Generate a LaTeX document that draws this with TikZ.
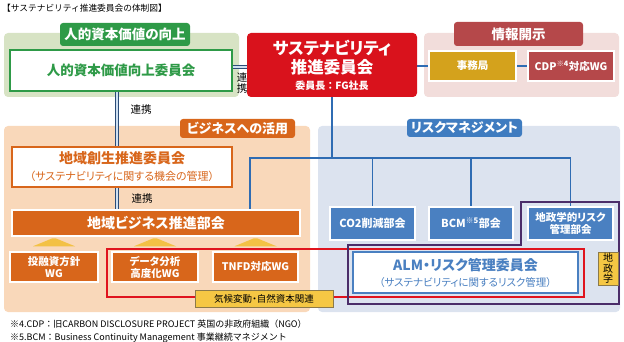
\documentclass[tikz,border=0pt]{standalone}
\usepackage{fontspec}
\setmainfont{Noto Sans CJK JP}[RawFeature={+palt}]
\newfontfamily\jpwide{Noto Sans CJK JP}
\usepackage{tikz}
\usetikzlibrary{
    positioning
}
\definecolor{greenbg}{HTML}{D7E3C4}
\definecolor{greendark}{HTML}{2E9A47}
\definecolor{redmain}{HTML}{D9121C}
\definecolor{pinkbg}{HTML}{F2DDDB}
\definecolor{wine}{HTML}{B5484A}
\definecolor{gold}{HTML}{D4A21C}
\definecolor{orangebg}{HTML}{F9D8BA}
\definecolor{orangemain}{HTML}{D8661B}
\definecolor{bluebg}{HTML}{DCE3EF}
\definecolor{bluetab}{HTML}{3F7CC0}
\definecolor{bluebox}{HTML}{4A80C1}
\definecolor{treeblue}{HTML}{2F6CB3}
\definecolor{linkdark}{HTML}{2B4C78}
\definecolor{linklight}{HTML}{CFE0F1}
\definecolor{tagyellow}{HTML}{F5C744}
\definecolor{tagedge}{HTML}{8C7A4A}
\definecolor{markyellow}{HTML}{F3C145}
\definecolor{climred}{HTML}{E0141E}
\definecolor{geopurple}{HTML}{4B2D69}
\tikzset{
    panel/.style={
        rounded corners=4pt
    },
    tab/.style={
        rounded corners=3pt,
        text=white,
        inner sep=0pt
    },
    whitebox/.style={
        fill=white,
        line width=1.5pt,
        align=center,
        inner sep=0pt
    },
    solidbox/.style={
        draw=white,
        line width=1.5pt,
        text=white,
        align=center,
        inner sep=0pt
    },
    renkei/.style={
        draw=linkdark,
        line width=0.8pt,
        double=linklight,
        double distance=2.6pt
    },
    tree/.style={
        draw=treeblue,
        line width=1.1pt
    },
    tag/.style={
        fill=tagyellow,
        draw=tagedge,
        line width=0.6pt,
        inner sep=0pt
    }
}

\begin{document}
\begin{tikzpicture}[
    x=1pt,
    y=-1pt
]

    \useasboundingbox (0,0) rectangle (624,342);

    % Titulo
    \node[anchor=west, font=\jpwide\fontsize{8.7}{11}\selectfont, inner sep=0pt] (titulo) at (2,8)
        {【サステナビリティ推進委員会の体制図】};

    % Regiones
    \fill[panel, fill=greenbg]  (4,33)    rectangle (239,97);
    \fill[panel, fill=pinkbg]   (424,33)  rectangle (619,97);
    \fill[panel, fill=orangebg] (4,126)   rectangle (310,312);
    \fill[panel, fill=bluebg]   (318,126) rectangle (620,312);

    % Pestanas
    \node[tab, fill=greendark, minimum width=130pt, minimum height=23pt,
          font=\fontsize{13.5}{15}\selectfont\bfseries]
        (tabjinzai) at (125,34.5) {人的資本価値の向上};
    \node[tab, fill=wine, minimum width=129pt, minimum height=24pt,
          font=\fontsize{13.5}{15}\selectfont\bfseries]
        (tabkaiji) at (518.5,34) {情報開示};
    \node[tab, fill=orangemain, minimum width=115pt, minimum height=19pt,
          font=\fontsize{13}{15}\selectfont\bfseries]
        (tabbiz) at (237.5,128.5) {ビジネスへの活用};
    \node[tab, fill=bluetab, minimum width=115pt, minimum height=18pt,
          font=\fontsize{13}{15}\selectfont\bfseries]
        (tabrisk) at (464.5,128) {リスクマネジメント};

    % Conexiones
    \coordinate (hub)   at (332,158);
    \coordinate (bizin) at (250,210);
    \coordinate (rx)    at (117,0);

    \draw[tree] (332,97) -- (hub);
    \draw[tree] (hub) -| (bizin);
    \draw[tree] (hub) -| (372.5,208);
    \draw[tree] (hub) -| (471,208);
    \draw[tree] (hub) -| (570.5,208);
    \draw[tree] (417,66) -- (429,66);
    \draw[tree] (516,66) -- (528,66);

    % Comites
    \node[fill=redmain, rounded corners=4pt, minimum width=170pt, minimum height=64pt,
          text=white, align=center, inner sep=0pt,
          font=\fontsize{16.5}{19}\selectfont\bfseries]
        (suishin) at (332,65)
        {サステナビリティ\\推進委員会\\[-3pt]\jpwide\fontsize{10}{12}\selectfont 委員長：FG社長};

    \node[whitebox, draw=greendark, text=greendark, minimum width=222pt, minimum height=41pt,
          font=\fontsize{13.5}{15}\selectfont\bfseries]
        (jinzai) at (121,70.5) {人的資本価値向上委員会};

    \node[solidbox, fill=gold, minimum width=87pt, minimum height=30pt,
          font=\fontsize{10.5}{12}\selectfont\bfseries]
        (jimu) at (472.5,66) {事務局};
    \node[solidbox, fill=wine, minimum width=86pt, minimum height=30pt,
          font=\fontsize{10.5}{12}\selectfont\bfseries]
        (cdp) at (571,66) {CDP\textsuperscript{※4}対応WG};

    \node[whitebox, draw=orangemain, text=orangemain, minimum width=220pt, minimum height=40pt,
          font=\fontsize{14}{17}\selectfont\bfseries]
        (sousei) at (122,167)
        {地域創生推進委員会\\\fontsize{11}{13}\selectfont\mdseries（サステナビリティに関する機会の管理）};

    \node[solidbox, fill=orangemain, minimum width=288pt, minimum height=26pt,
          font=\fontsize{14}{16}\selectfont\bfseries]
        (chiikibiz) at (156,223) {地域ビジネス推進部会};

    \node[solidbox, fill=orangemain, minimum width=88pt, minimum height=30pt,
          font=\fontsize{10.5}{12}\selectfont\bfseries]
        (wg1) at (54,267) {投融資方針\\WG};
    \node[solidbox, fill=orangemain, minimum width=86pt, minimum height=30pt,
          font=\fontsize{10.5}{12}\selectfont\bfseries]
        (wg2) at (155,267) {データ分析\\高度化WG};
    \node[solidbox, fill=orangemain, minimum width=85pt, minimum height=30pt,
          font=\fontsize{10.5}{12}\selectfont\bfseries]
        (wg3) at (255.5,267) {TNFD対応WG};

    \node[solidbox, fill=bluebox, minimum width=85pt, minimum height=33pt,
          font=\fontsize{11}{13}\selectfont\bfseries]
        (co2) at (372.5,223.5) {CO2削減部会};
    \node[solidbox, fill=bluebox, minimum width=84pt, minimum height=33pt,
          font=\fontsize{11}{13}\selectfont\bfseries]
        (bcm) at (471,223.5) {BCM\textsuperscript{※5}部会};
    \node[solidbox, fill=bluebox, minimum width=85pt, minimum height=33pt,
          font=\fontsize{10.5}{12}\selectfont\bfseries]
        (geo) at (570.5,223.5) {地政学的リスク\\管理部会};

    \node[whitebox, draw=bluebox, text=bluebox, minimum width=225pt, minimum height=41pt,
          font=\fontsize{14}{16}\selectfont\bfseries]
        (alm) at (465.5,272.5)
        {ALM・リスク管理委員会\\\fontsize{10.5}{12}\selectfont\mdseries（サステナビリティに関するリスク管理）};

    % Enlaces
    \draw[renkei] ([yshift=3.5pt]jinzai.east) -- ([yshift=3.5pt]jinzai.east -| suishin.west);
    \draw[renkei] (jinzai.south -| rx) -- (sousei.north -| rx);
    \draw[renkei] (sousei.south -| rx) -- (chiikibiz.north -| rx);

    \node[font=\fontsize{10.5}{11.5}\selectfont, align=center, inner sep=0pt]
        (renkeiA) at (242,83) {連\\携};
    \node[font=\fontsize{10.5}{12}\selectfont, inner sep=0pt]
        (renkeiB) at (141,110) {連携};
    \node[font=\fontsize{10.5}{12}\selectfont, inner sep=0pt]
        (renkeiC) at (142,199) {連携};

    \foreach \w in {wg1,wg2,wg3}
        \fill[markyellow] ([xshift=-21pt,yshift=5pt]\w.north) -- ([xshift=21pt,yshift=5pt]\w.north)
            -- ([xshift=1.5pt,yshift=13pt]\w.north) -- ([xshift=-1.5pt,yshift=13pt]\w.north) -- cycle;

    % Marcos tematicos
    \draw[climred, line width=1.4pt] (107,249) rectangle (584,297);
    \draw[geopurple, line width=1.4pt]
        (521,202) -- (619,202) -- (619,304) -- (348,304) -- (348,245) -- (521,245) -- cycle;

    \node[tag, minimum width=138pt, minimum height=17pt, font=\fontsize{9.5}{11}\selectfont]
        (clima) at (264,298.5) {気候変動・自然資本関連};
    \node[tag, minimum width=20pt, minimum height=33pt, align=center,
          font=\fontsize{10}{10.5}\selectfont]
        (chisei) at (608,268.5) {地\\政\\学};

    % Notas
    \node[anchor=west, font=\jpwide\fontsize{9}{11}\selectfont, inner sep=0pt] (nota4) at (10,324)
        {※4.CDP：旧CARBON DISCLOSURE PROJECT 英国の非政府組織（NGO）};
    \node[anchor=west, font=\jpwide\fontsize{9}{11}\selectfont, inner sep=0pt] (nota5) at (10,338)
        {※5.BCM：Business Continuity Management 事業継続マネジメント};

\end{tikzpicture}
\end{document}
